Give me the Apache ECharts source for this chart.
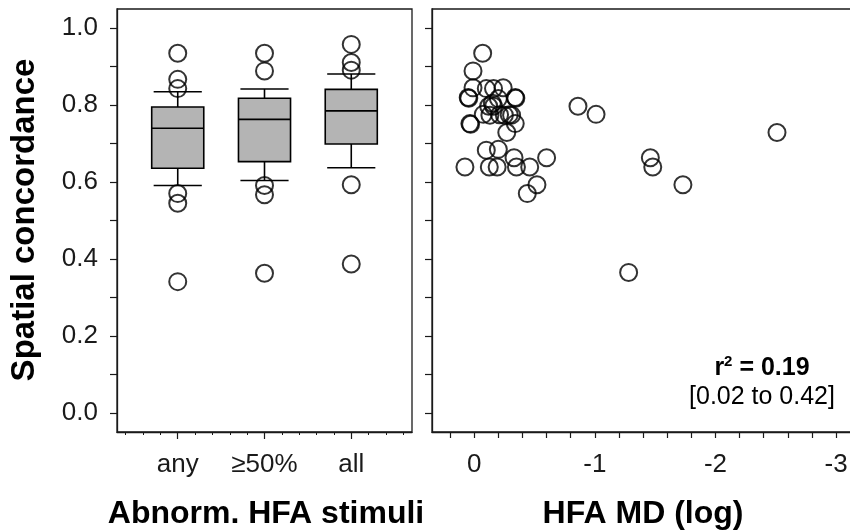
<!DOCTYPE html>
<html>
<head>
<meta charset="utf-8">
<script src="https://cdn.jsdelivr.net/npm/echarts@6.0.0/dist/echarts.min.js"></script>
<style>
html,body{margin:0;padding:0;background:#fff;}
#chart{width:850px;height:531px;}
</style>
</head>
<body>
<div id="chart"></div>
<script>
// ---- data ----
const categories = ['any', '\u226550%', 'all'];
const boxLow    = [0.591, 0.604, 0.637];
const boxQ1     = [0.636, 0.653, 0.699];
const boxMedian = [0.740, 0.763, 0.785];
const boxQ3     = [0.795, 0.818, 0.841];
const boxHigh   = [0.835, 0.842, 0.881];
const outliersAny  = [0.935, 0.867, 0.843, 0.570, 0.545, 0.341];
const outliersHalf = [0.935, 0.889, 0.591, 0.567, 0.363];
const outliersAll  = [0.958, 0.911, 0.891, 0.593, 0.387];

const hfaMD = [
  -0.07, 0.01, 0.01, 0.05, 0.045, -0.10, -0.16, -0.24, -0.34, -0.345,
  -0.20, -0.12, -0.16, -0.075, -0.13, -0.25, -0.31, 0.036, 0.03, -0.34,
  -0.27, -0.10, -0.20, -0.33, -0.60, 0.077, -0.125, -0.19, -0.35, -0.46,
  -0.52, -0.44, -0.86, -1.01, -2.51, -1.46, -1.48, -1.73, -1.28,
  -0.15, -0.21, -0.29
];
const concordance = [
  0.935, 0.889, 0.845, 0.820, 0.818, 0.843, 0.843, 0.845, 0.820, 0.818,
  0.817, 0.797, 0.797, 0.776, 0.774, 0.774, 0.774, 0.752, 0.750, 0.752,
  0.729, 0.683, 0.685, 0.663, 0.663, 0.639, 0.639, 0.639, 0.639, 0.639,
  0.593, 0.570, 0.797, 0.776, 0.729, 0.663, 0.639, 0.593, 0.365,
  0.805, 0.775, 0.775
];

const yTicks = [0, 0.1, 0.2, 0.3, 0.4, 0.5, 0.6, 0.7, 0.8, 0.9, 1.0];
const yLabels = [0, 0.2, 0.4, 0.6, 0.8, 1.0];
const catTicks = [1, 2, 3];
const catMinorTicks = [0.4,0.6,0.8,1.2,1.4,1.6,1.8,2.2,2.4,2.6,2.8,3.2,3.4,3.6];
const mdTicks = [0.2,0,-0.2,-0.4,-0.6,-0.8,-1,-1.2,-1.4,-1.6,-1.8,-2,-2.2,-2.4,-2.6,-2.8,-3];
const mdLabels = [0, -1, -2, -3];

// ---- chart ----
const FONT = '"Liberation Sans", Arial, sans-serif';
const INK = '#1a1a1a';
const chart = echarts.init(document.getElementById('chart'), null, {renderer: 'canvas'});

const boxData = categories.map((c, i) => [i + 1, boxLow[i], boxQ1[i], boxMedian[i], boxQ3[i], boxHigh[i]]);
const outlierData = []
  .concat(outliersAny.map(v => [1, v]))
  .concat(outliersHalf.map(v => [2, v]))
  .concat(outliersAll.map(v => [3, v]));
const scatterData = hfaMD.map((x, i) => [x, concordance[i]]);

const circleStyle = {color: 'rgba(0,0,0,0)', borderColor: '#000', borderWidth: 2};

function yAxisCfg(grid, labels) {
  return {
    type: 'value', gridIndex: grid, min: -0.05, max: 1.05,
    axisLine: {show: true, onZero: false, lineStyle: {color: INK, width: 1.3}},
    axisTick: {show: true, length: 7, customValues: yTicks, lineStyle: {color: INK, width: 1.2}},
    axisLabel: labels ? {
      show: true, customValues: yLabels, margin: 19,
      formatter: v => Number(v).toFixed(1),
      fontFamily: FONT, fontSize: 26, color: INK
    } : {show: false},
    splitLine: {show: false}
  };
}

const option = {
  animation: false,
  backgroundColor: '#fff',
  grid: [
    {left: 117, top: 9, right: 438, bottom: 99, outerBoundsMode: 'none', containLabel: false,
      show: true, borderColor: INK, borderWidth: 1.3, backgroundColor: 'transparent'},
    {left: 432, top: 9, right: -3, bottom: 99, outerBoundsMode: 'none', containLabel: false,
      show: true, borderColor: INK, borderWidth: 1.3, backgroundColor: 'transparent'}
  ],
  xAxis: [
    {
      type: 'value', gridIndex: 0, min: 0.3, max: 3.7, position: 'bottom',
      axisLine: {show: true, onZero: false, lineStyle: {color: INK, width: 1.3}},
      axisTick: {show: true, length: 7, customValues: catTicks, lineStyle: {color: INK, width: 1.2}},
      axisLabel: {show: true, customValues: catTicks, margin: 20,
        formatter: v => categories[Math.round(v) - 1] || '',
        fontFamily: FONT, fontSize: 26, color: INK},
      splitLine: {show: false}
    },
    {
      type: 'value', gridIndex: 0, min: 0.3, max: 3.7, position: 'bottom',
      axisLine: {show: false, onZero: false},
      axisTick: {show: true, length: 3, customValues: catMinorTicks, lineStyle: {color: INK, width: 1}},
      axisLabel: {show: false},
      splitLine: {show: false}
    },
    {
      type: 'value', gridIndex: 1, min: -3.14, max: 0.35, inverse: true, position: 'bottom',
      axisLine: {show: true, onZero: false, lineStyle: {color: INK, width: 1.3}},
      axisTick: {show: true, length: 6, customValues: mdTicks, lineStyle: {color: INK, width: 1.2}},
      axisLabel: {show: true, customValues: mdLabels, margin: 20,
        formatter: v => String(Math.round(v)),
        fontFamily: FONT, fontSize: 26, color: INK},
      splitLine: {show: false}
    }
  ],
  yAxis: [yAxisCfg(0, true), yAxisCfg(1, false)],
  series: [
    {
      type: 'custom', xAxisIndex: 0, yAxisIndex: 0,
      encode: {x: 0, y: [1, 2, 3, 4, 5]},
      data: boxData,
      renderItem: function (params, api) {
        const x = api.value(0);
        const pLo = api.coord([x, api.value(1)]);
        const pQ1 = api.coord([x, api.value(2)]);
        const pMed = api.coord([x, api.value(3)]);
        const pQ3 = api.coord([x, api.value(4)]);
        const pHi = api.coord([x, api.value(5)]);
        const half = api.size([0.6, 0])[0] / 2;
        const capHalf = api.size([0.555, 0])[0] / 2;
        const cx = pMed[0];
        const ls = {stroke: '#000', lineWidth: 1.6};
        return {
          type: 'group',
          children: [
            {type: 'line', shape: {x1: cx, y1: pQ3[1], x2: cx, y2: pHi[1]}, style: ls},
            {type: 'line', shape: {x1: cx, y1: pQ1[1], x2: cx, y2: pLo[1]}, style: ls},
            {type: 'line', shape: {x1: cx - capHalf, y1: pHi[1], x2: cx + capHalf, y2: pHi[1]}, style: ls},
            {type: 'line', shape: {x1: cx - capHalf, y1: pLo[1], x2: cx + capHalf, y2: pLo[1]}, style: ls},
            {type: 'rect', shape: {x: cx - half, y: pQ3[1], width: 2 * half, height: pQ1[1] - pQ3[1]},
              style: {fill: '#b4b4b4', stroke: '#000', lineWidth: 1.6}},
            {type: 'line', shape: {x1: cx - half, y1: pMed[1], x2: cx + half, y2: pMed[1]}, style: ls}
          ]
        };
      },
      z: 2
    },
    {
      type: 'scatter', xAxisIndex: 0, yAxisIndex: 0,
      data: outlierData, symbol: 'circle', symbolSize: 17,
      itemStyle: circleStyle, z: 3
    },
    {
      type: 'scatter', xAxisIndex: 2, yAxisIndex: 1,
      data: scatterData, symbol: 'circle', symbolSize: 17,
      itemStyle: circleStyle, z: 3
    }
  ],
  graphic: [
    {type: 'text', x: 25, y: 220, rotation: Math.PI / 2,
      style: {text: 'Spatial concordance', fontFamily: FONT, fontWeight: 'bold', fontSize: 33,
        fill: '#000', align: 'center', verticalAlign: 'middle'}},
    {type: 'text', x: 266, y: 514,
      style: {text: 'Abnorm. HFA stimuli', fontFamily: FONT, fontWeight: 'bold', fontSize: 32,
        fill: '#000', align: 'center', verticalAlign: 'middle'}},
    {type: 'text', x: 643, y: 514,
      style: {text: 'HFA MD (log)', fontFamily: FONT, fontWeight: 'bold', fontSize: 32,
        fill: '#000', align: 'center', verticalAlign: 'middle'}},
    {type: 'text', x: 762, y: 368,
      style: {text: '{b|r}{s|2}{b| = 0.19}', align: 'center', verticalAlign: 'middle',
        rich: {
          b: {fontFamily: FONT, fontWeight: 'bold', fontSize: 25, fill: '#000', lineHeight: 28},
          s: {fontFamily: FONT, fontWeight: 'bold', fontSize: 15, fill: '#000', lineHeight: 28, verticalAlign: 'top'}
        }}},
    {type: 'text', x: 762, y: 397,
      style: {text: '[0.02 to 0.42]', fontFamily: FONT, fontSize: 25,
        fill: '#000', align: 'center', verticalAlign: 'middle'}}
  ]
};
chart.setOption(option);
</script>
</body>
</html>
